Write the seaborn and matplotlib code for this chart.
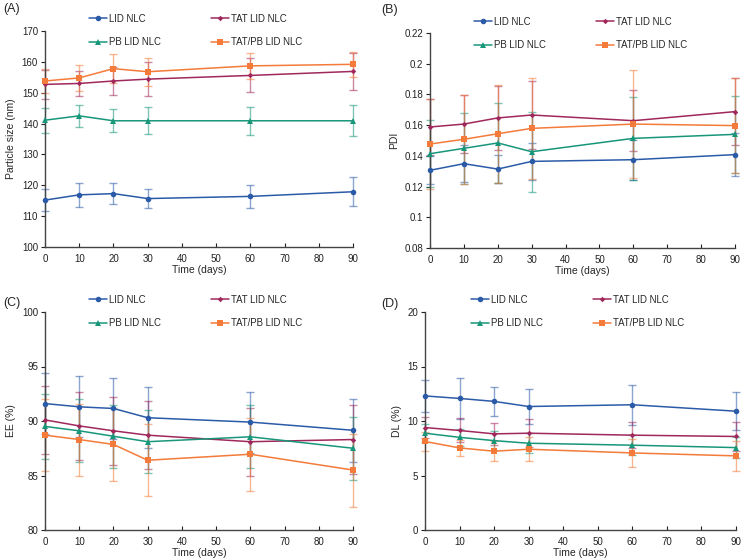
import numpy as np
import pandas as pd
import matplotlib
matplotlib.use("Agg")
import matplotlib.pyplot as plt
from matplotlib.lines import Line2D
import seaborn as sns

days = [0, 10, 20, 30, 60, 90]
series = ["LID NLC", "TAT LID NLC", "PB LID NLC", "TAT/PB LID NLC"]

# Panel A: particle size (nm)
size_lid = [115.2, 116.9, 117.3, 115.7, 116.4, 117.9]
size_lid_sd = [3.5, 3.8, 3.3, 3.2, 3.8, 4.7]
size_tat = [152.7, 153.0, 153.8, 154.4, 155.6, 156.9]
size_tat_sd = [4.7, 4.0, 4.5, 5.5, 5.5, 5.9]
size_pb = [141.1, 142.5, 140.9, 140.9, 140.9, 140.9]
size_pb_sd = [4.0, 3.6, 3.7, 4.4, 4.6, 5.0]
size_tatpb = [153.8, 154.8, 157.8, 156.8, 158.7, 159.2]
size_tatpb_sd = [4.0, 4.3, 4.7, 4.5, 4.3, 4.0]

# Panel B: PDI
pdi_lid = [0.1306, 0.1349, 0.1314, 0.1364, 0.1375, 0.1408]
pdi_lid_sd = [0.009, 0.012, 0.009, 0.012, 0.013, 0.014]
pdi_tat = [0.1588, 0.1607, 0.1647, 0.1666, 0.1629, 0.1688]
pdi_tat_sd = [0.018, 0.019, 0.021, 0.022, 0.020, 0.022]
pdi_pb = [0.1414, 0.1449, 0.1484, 0.1427, 0.1514, 0.1540]
pdi_pb_sd = [0.022, 0.023, 0.026, 0.026, 0.027, 0.025]
pdi_tatpb = [0.1477, 0.1508, 0.1544, 0.1579, 0.1607, 0.1597]
pdi_tatpb_sd = [0.029, 0.029, 0.032, 0.033, 0.035, 0.031]

# Panel C: EE (%)
ee_lid = [91.6, 91.3, 91.15, 90.3, 89.9, 89.15]
ee_lid_sd = [2.8, 2.8, 2.8, 2.8, 2.8, 2.9]
ee_tat = [90.1, 89.55, 89.1, 88.7, 88.1, 88.3]
ee_tat_sd = [3.1, 3.1, 3.1, 3.1, 3.1, 3.15]
ee_pb = [89.5, 89.1, 88.6, 88.1, 88.55, 87.5]
ee_pb_sd = [3.0, 2.9, 2.9, 2.9, 2.9, 2.9]
ee_tatpb = [88.7, 88.3, 87.85, 86.4, 86.95, 85.5]
ee_tatpb_sd = [3.3, 3.3, 3.35, 3.3, 3.35, 3.35]

# Panel D: DL (%)
dl_lid = [12.3, 12.07, 11.8, 11.33, 11.49, 10.9]
dl_lid_sd = [1.5, 1.85, 1.3, 1.6, 1.85, 1.75]
dl_tat = [9.4, 9.13, 8.82, 8.88, 8.7, 8.58]
dl_tat_sd = [0.95, 1.1, 1.0, 1.3, 1.2, 1.3]
dl_pb = [8.88, 8.5, 8.2, 7.96, 7.78, 7.56]
dl_pb_sd = [0.8, 0.8, 0.85, 0.9, 0.9, 1.0]
dl_tatpb = [8.12, 7.53, 7.23, 7.41, 7.07, 6.8]
dl_tatpb_sd = [0.85, 0.75, 0.9, 1.1, 1.3, 1.4]

colors = {"LID NLC": "#2B5BA8", "TAT LID NLC": "#A0285C",
          "PB LID NLC": "#17967A", "TAT/PB LID NLC": "#F47B3A"}
markers = {"LID NLC": "o", "TAT LID NLC": "D", "PB LID NLC": "^", "TAT/PB LID NLC": "s"}
msizes = {"LID NLC": 4, "TAT LID NLC": 2.8, "PB LID NLC": 4.2, "TAT/PB LID NLC": 4.2}

panels = [
    ("(A)", "Particle size (nm)", (100, 170), np.arange(100, 171, 10), None,
     [(size_lid, size_lid_sd), (size_tat, size_tat_sd), (size_pb, size_pb_sd), (size_tatpb, size_tatpb_sd)]),
    ("(B)", "PDI", (0.08, 0.22), np.arange(0.08, 0.2201, 0.02),
     ["0.08", "0.1", "0.12", "0.14", "0.16", "0.18", "0.2", "0.22"],
     [(pdi_lid, pdi_lid_sd), (pdi_tat, pdi_tat_sd), (pdi_pb, pdi_pb_sd), (pdi_tatpb, pdi_tatpb_sd)]),
    ("(C)", "EE (%)", (80, 100), np.arange(80, 101, 5), None,
     [(ee_lid, ee_lid_sd), (ee_tat, ee_tat_sd), (ee_pb, ee_pb_sd), (ee_tatpb, ee_tatpb_sd)]),
    ("(D)", "DL (%)", (0, 20), np.arange(0, 21, 5), None,
     [(dl_lid, dl_lid_sd), (dl_tat, dl_tat_sd), (dl_pb, dl_pb_sd), (dl_tatpb, dl_tatpb_sd)]),
]

# layout in pixels: axes rect (l, t, r, b), legend (x of first handle, y centre), panel label pos
axes_rects = [(45, 31, 353, 247), (430, 33, 735, 248), (45, 312, 353, 530), (425, 312, 736, 530)]
legend_pos = [(89, 30.5), (474, 33.5), (89, 311.5), (471, 311.5)]
label_pos = [(3, 9), (381, 10), (3, 303), (381, 304)]
W, H = 745, 560

sns.set_theme(style="white")
plt.rcParams["font.family"] = ["Liberation Sans", "DejaVu Sans"]

fig = plt.figure(figsize=(W / 100, H / 100), dpi=100)
fig.patch.set_facecolor("white")

for (label, ylabel, ylim, yticks, yticklabels, data), (l, t, r, b), (lx, ly), (px, py) in zip(
        panels, axes_rects, legend_pos, label_pos):
    ax = fig.add_axes([l / W, 1 - b / H, (r - l) / W, (b - t) / H])
    rows = []
    for name, (vals, sds) in zip(series, data):
        for d, v, s in zip(days, vals, sds):
            rows.append({"Time": d, "value": v, "sd": s, "series": name})
    df = pd.DataFrame(rows)
    for name in series:
        sub = df[df["series"] == name]
        eb = ax.errorbar(sub["Time"], sub["value"], yerr=sub["sd"], fmt="none",
                         ecolor=colors[name], alpha=0.55, elinewidth=1.0, capsize=3,
                         capthick=1.0, zorder=2)
        for art in eb.lines[1] + eb.lines[2]:
            art.set_clip_on(False)
    sns.lineplot(data=df, x="Time", y="value", hue="series", style="series",
                 hue_order=series, style_order=series, palette=colors,
                 markers=markers, dashes=False, linewidth=1.1, ax=ax,
                 markeredgewidth=0, zorder=3, legend=False)
    for line, name in zip(ax.lines[-4:], series):
        line.set_markersize(msizes[name])
        line.set_clip_on(False)
    ax.set_xlim(0, 90)
    ax.set_ylim(*ylim)
    ax.set_xticks(range(0, 91, 10))
    ax.set_yticks(yticks)
    if yticklabels is not None:
        ax.set_yticklabels(yticklabels)
    ax.set_xlabel("Time (days)", fontsize=7.5, labelpad=1)
    ax.set_ylabel(ylabel, fontsize=7.5, labelpad=4)
    ax.tick_params(axis="x", direction="in", length=3, width=0.8, labelsize=7, pad=5, colors="#222222")
    ax.tick_params(axis="y", direction="out", length=3, width=0.8, labelsize=7, pad=2, colors="#222222")
    ax.tick_params(left=True, bottom=True)
    for sp in ["top", "right"]:
        ax.spines[sp].set_visible(False)
    for sp in ["left", "bottom"]:
        ax.spines[sp].set_color("#444444")
        ax.spines[sp].set_linewidth(1.0)
    ax.set_facecolor("none")

    handles = [Line2D([], [], color=colors[n], marker=markers[n], markersize=msizes[n],
                      markeredgewidth=0, linewidth=1.1) for n in series]
    order = [0, 2, 1, 3]
    ax.legend([handles[i] for i in order], [series[i] for i in order], ncol=2,
              loc="center left", bbox_to_anchor=(lx / W, 1 - ly / H),
              bbox_transform=fig.transFigure, frameon=False, borderpad=0,
              borderaxespad=0, fontsize=6.9, handlelength=1.9, handletextpad=0.2,
              columnspacing=5.2, labelspacing=1.45)
    fig.text(px / W, 1 - py / H, label, fontsize=9, ha="left", va="center")

fig.savefig("out.png", dpi=100, facecolor="white")
